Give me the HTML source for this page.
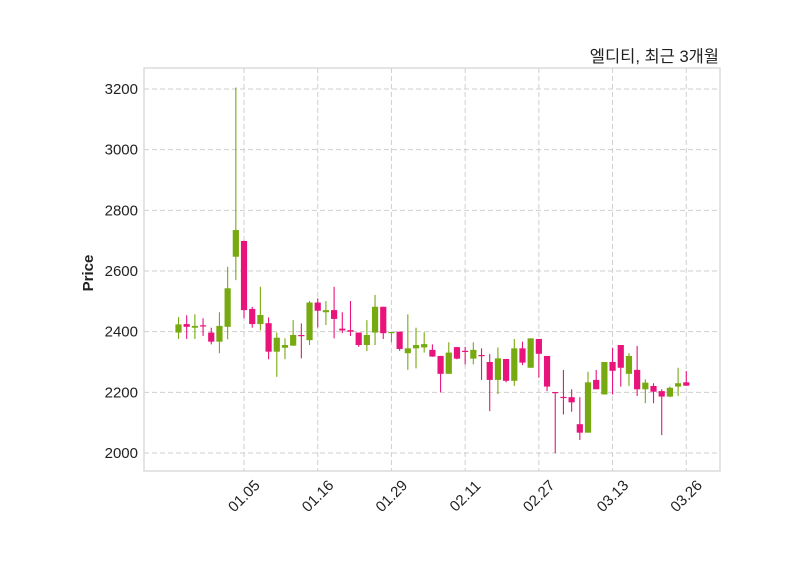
<!DOCTYPE html>
<html><head><meta charset="utf-8"><style>
body{margin:0;background:#fff;}
svg{display:block;font-family:"Liberation Sans","Noto Sans CJK KR",sans-serif;}
</style></head><body>
<svg id="chart" width="800" height="575" viewBox="0 0 800 575" xmlns="http://www.w3.org/2000/svg">
<rect x="0" y="0" width="800" height="575" fill="#fff"/>
<text x="719" y="62" text-anchor="end" font-size="16.5" fill="#222">엘디티, 최근 3개월</text>
<text transform="translate(93,273) rotate(-90)" text-anchor="middle" font-size="15" font-weight="bold" fill="#222">Price</text>
<g id="grid"></g><g id="marks"></g><g id="axes"></g>
<rect x="144" y="68" width="576" height="403" fill="none" stroke="#d6d6d6" stroke-width="1.3"/>
</svg>
<script>
const opens  = [2397,2425,2413,2421,2397,2367,2416,2647,2699,2475,2425,2428,2334,2347,2354,2389,2372,2496,2464,2471,2410,2405,2397,2356,2397,2482,2396,2400,2329,2345,2348,2340,2320,2261,2349,2337,2311,2323,2300,2241,2310,2238,2345,2281,2376,2320,2201,2185,2184,2095,2067,2241,2193,2300,2356,2261,2274,2210,2221,2204,2186,2219,2233];
const highs  = [2448,2454,2457,2444,2413,2464,2614,3205,2700,2482,2548,2447,2397,2378,2438,2427,2501,2510,2501,2548,2464,2501,2397,2438,2521,2482,2400,2400,2457,2413,2398,2358,2320,2365,2350,2350,2365,2345,2326,2348,2310,2376,2367,2378,2376,2320,2201,2274,2210,2184,2268,2274,2300,2347,2356,2329,2353,2243,2230,2210,2219,2281,2270];
const lows   = [2376,2376,2376,2386,2358,2329,2375,2570,2444,2413,2405,2309,2251,2309,2353,2312,2356,2414,2422,2378,2395,2386,2350,2336,2356,2376,2365,2337,2274,2279,2331,2317,2200,2261,2309,2292,2292,2241,2138,2194,2233,2221,2290,2281,2248,2204,1999,2127,2136,2043,2067,2210,2193,2193,2219,2221,2188,2164,2164,2059,2184,2188,2221];
const closes = [2424,2416,2419,2417,2367,2419,2543,2735,2471,2425,2455,2334,2380,2356,2389,2385,2496,2469,2471,2442,2404,2400,2356,2389,2482,2395,2399,2343,2345,2356,2359,2318,2261,2331,2311,2335,2340,2321,2241,2312,2238,2345,2298,2378,2327,2219,2199,2183,2167,2067,2233,2210,2300,2271,2281,2320,2210,2232,2202,2186,2215,2230,2222];
const yTicks = [2000,2200,2400,2600,2800,3000,3200];
const xTickIdx = [8,17,26,35,44,53,62];
const xTickLabels = ["01.05","01.16","01.29","02.11","02.27","03.13","03.26"];

const NS="http://www.w3.org/2000/svg";
const X0=144,X1=720,Y0=68,Y1=471;
function xScale(i){return 178.5+i*8.19;}
function yScale(p){return 89+(3200-p)*0.30333;}
function mk(tag,attrs,parent){const e=document.createElementNS(NS,tag);for(const k in attrs)e.setAttribute(k,attrs[k]);parent.appendChild(e);return e;}
const grid=document.getElementById('grid'),marks=document.getElementById('marks'),axes=document.getElementById('axes');
yTicks.forEach(v=>{
  const y=yScale(v);
  const l=mk('line',{x1:X0,x2:X1,y1:y,y2:y,stroke:'#cfcfcf','stroke-dasharray':'5,3','stroke-width':1},grid);
  
  
  const t=mk('text',{x:138,y:y+5,'text-anchor':'end','font-size':15,fill:'#222'},axes);
  t.textContent=v;
  
  
});
xTickIdx.forEach((idx,k)=>{
  const x=xScale(idx);
  const l=mk('line',{x1:x,x2:x,y1:Y0,y2:Y1,stroke:'#cfcfcf','stroke-dasharray':'5,3','stroke-width':1},grid);
  
  
  const t=mk('text',{x:x,y:501,'text-anchor':'middle','font-size':15,fill:'#222',transform:'rotate(-45,'+x+',496)'},axes);
  t.textContent=xTickLabels[k];
  
  
});
opens.forEach((o,i)=>{
  const c=closes[i],up=c>=o,col=up?'#77aa10':'#e8147b';
  const x=xScale(i);
  const w=mk('line',{x1:x,x2:x,y1:yScale(highs[i]),y2:yScale(lows[i]),stroke:col,'stroke-width':1.1},marks);
  
  
  const top=yScale(Math.max(o,c)),bot=yScale(Math.min(o,c));
  const b=mk('rect',{x:x-3.1,y:top,width:6.2,height:Math.max(1.2,bot-top),fill:col},marks);
  
  
});
</script>
</body></html>
